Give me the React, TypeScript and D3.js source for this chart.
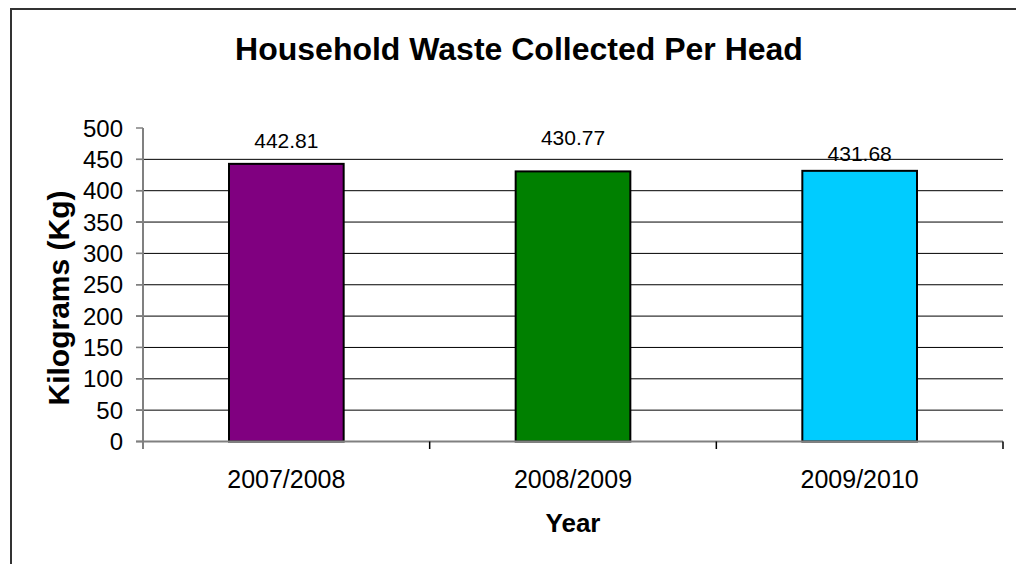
import React from "react";
import * as d3 from "d3";

const years: string[] = ["2007/2008", "2008/2009", "2009/2010"];
const wastePerHead: number[] = [442.81, 430.77, 431.68];
const barColors: string[] = ["#800080", "#008000", "#00CCFF"];
const yTicks: number[] = [0, 50, 100, 150, 200, 250, 300, 350, 400, 450, 500];

const W = 1016;
const H = 564;
const plot = { left: 143, right: 1003, top: 128, bottom: 441.5 };
// Gap between each bar top and the baseline of its value label
const labelGaps = [16, 26, 10];
const font = "'Liberation Sans', Arial, sans-serif";

export default function App() {
  const x = d3
    .scaleBand<string>()
    .domain(years)
    .range([plot.left, plot.right])
    .paddingInner(0.6)
    .paddingOuter(0.3);
  const xCat = d3.scaleBand<string>().domain(years).range([plot.left, plot.right]);
  const y = d3.scaleLinear().domain([0, 500]).range([plot.bottom, plot.top]);

  const catEdges = [plot.left, ...years.map((c) => (xCat(c) as number) + xCat.bandwidth())];

  return (
    <svg
      width={W}
      height={H}
      style={{ position: "absolute", left: 0, top: 0, background: "#fff" }}
      fontFamily={font}
    >
      <rect x={0} y={0} width={W} height={H} fill="#fff" />
      {/* chart area frame */}
      <path d={`M11,${H} L11,9 L${W},9`} fill="none" stroke="#333" strokeWidth={2} />

      <text x={519} y={60} textAnchor="middle" fontSize={32} fontWeight="bold" fill="#000">
        Household Waste Collected Per Head
      </text>

      {/* gridlines */}
      {yTicks
        .filter((t) => t > 0 && t < 500)
        .map((t) => (
          <line key={t} x1={136} x2={plot.right} y1={y(t)} y2={y(t)} stroke="#000" strokeWidth={1} />
        ))}

      {/* y tick marks and labels */}
      {yTicks.map((t) => (
        <g key={t}>
          <line x1={136} x2={plot.left} y1={y(t)} y2={y(t)} stroke="#808080" strokeWidth={1.5} />
          <text x={123} y={y(t)} dy="0.36em" textAnchor="end" fontSize={24} fill="#000">
            {t}
          </text>
        </g>
      ))}

      {/* bars */}
      {years.map((c, i) => (
        <rect
          key={c}
          x={x(c)}
          y={y(wastePerHead[i])}
          width={x.bandwidth()}
          height={y(0) - y(wastePerHead[i])}
          fill={barColors[i]}
          stroke="#000"
          strokeWidth={2}
        />
      ))}

      {/* axes */}
      <line x1={plot.left} x2={plot.left} y1={plot.top} y2={449} stroke="#808080" strokeWidth={2} />
      <line x1={136} x2={plot.right} y1={y(0)} y2={y(0)} stroke="#808080" strokeWidth={2} />
      {catEdges.map((e, i) => (
        <line key={i} x1={e} x2={e} y1={y(0)} y2={449} stroke={i === 0 ? "#808080" : "#000"} strokeWidth={1.5} />
      ))}

      {/* value labels */}
      {years.map((c, i) => (
        <text
          key={c}
          x={(x(c) as number) + x.bandwidth() / 2}
          y={y(wastePerHead[i]) - labelGaps[i]}
          textAnchor="middle"
          fontSize={21}
          fill="#000"
        >
          {wastePerHead[i].toFixed(2)}
        </text>
      ))}

      {/* category labels */}
      {years.map((c) => (
        <text
          key={c}
          x={(xCat(c) as number) + xCat.bandwidth() / 2}
          y={488}
          textAnchor="middle"
          fontSize={25}
          fill="#000"
        >
          {c}
        </text>
      ))}

      <text x={573} y={532} textAnchor="middle" fontSize={26} fontWeight="bold" fill="#000">
        Year
      </text>
      <text
        transform={`translate(69,298) rotate(-90)`}
        textAnchor="middle"
        fontSize={30}
        fontWeight="bold"
        fill="#000"
      >
        Kilograms (Kg)
      </text>
    </svg>
  );
}
